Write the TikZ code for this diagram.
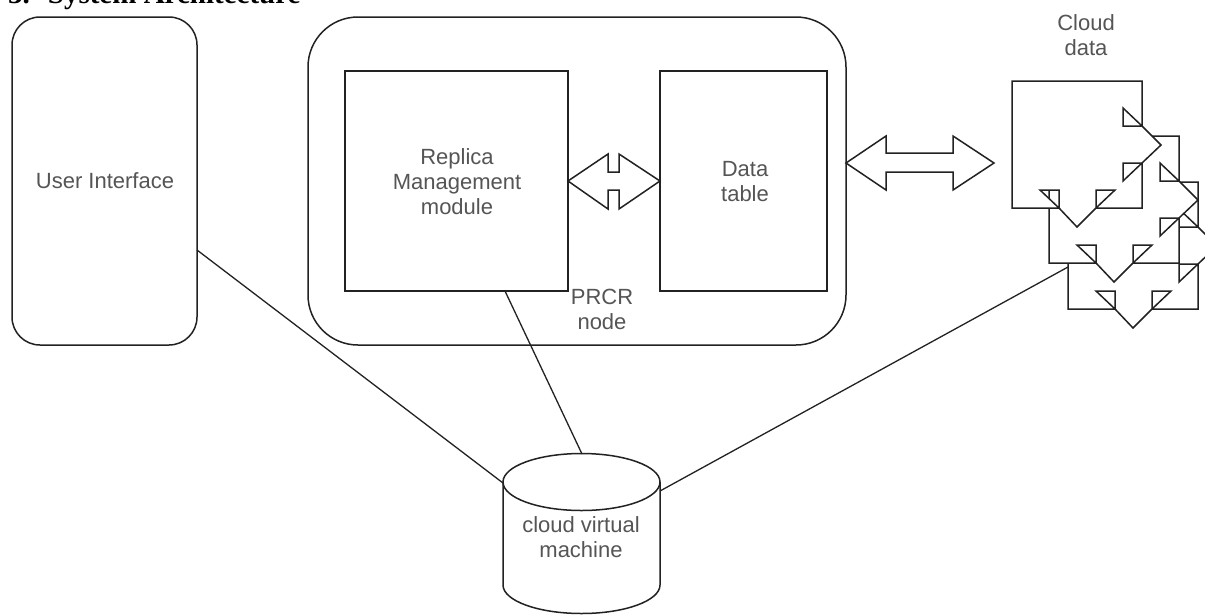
\documentclass[tikz,border=0pt]{standalone}
\usepackage{fontspec}
\setmainfont{Liberation Sans}
\newfontfamily\titlefont{Liberation Serif}
\definecolor{ink}{HTML}{222222}
\definecolor{lbl}{HTML}{555555}
\tikzset{
  x=1pt,y=-1pt,
  edge/.style={draw=ink,line width=1.5pt,line join=miter},
  block/.style={edge,fill=white},
  conn/.style={draw=ink,line width=1.3pt},
  lab/.style={text=lbl,font=\fontsize{22}{25}\selectfont,align=center,inner sep=0pt},
}
\newcommand{\cloudpage}[2]{%
  \draw[block,shift={(#1,#2)}]
    (1012,81) -- (1142,81) -- (1142,126) -- (1123,126) -- (1123,108) -- (1142,126)
    -- (1161,145) -- (1142,163) -- (1123,181) -- (1123,163) -- (1142,163) -- (1142,208)
    -- (1096,208) -- (1115,190) -- (1096,190) -- (1096,208) -- (1077,227) -- (1059,208)
    -- (1059,190) -- (1040,190) -- (1059,208) -- (1012,208) -- cycle;}
\begin{document}
\begin{tikzpicture}
\useasboundingbox (0,0) rectangle (1205,614);
\clip (0,0) rectangle (1205,614);
\fill[white] (0,0) rectangle (1205,614);
\node[anchor=base west,inner sep=0pt,font=\titlefont\bfseries\fontsize{29}{29}\selectfont] (title) at (8,3) {3.\hspace{18pt}System Architecture};

\node[edge,fill=white,rounded corners=28pt,minimum width=185pt,minimum height=328pt,inner sep=0pt] (ui) at (104.5,181) {};
\node[lab] (uilab) at (105,181) {User Interface};
\node[edge,fill=white,rounded corners=50pt,minimum width=538pt,minimum height=328pt,inner sep=0pt] (prcr) at (577,181) {};
\node[edge,fill=white,minimum width=223pt,minimum height=220pt,inner sep=0pt] (rm) at (456.5,181) {};
\node[lab] (rmlab) at (457,182) {Replica\\Management\\module};
\node[edge,fill=white,minimum width=167pt,minimum height=220pt,inner sep=0pt] (dt) at (743.5,181) {};
\node[lab] (dtlab) at (745,181.5) {Data\\table};
\node[lab] (prcrlab) at (602,309.5) {PRCR\\node};
\node[lab] (cdlab) at (1086,35.5) {Cloud\\data};

\draw[block] (568,181) -- (608,154) -- (608,172) -- (619,172) -- (619,154) -- (660,181)
  -- (619,209) -- (619,190) -- (608,190) -- (608,209) -- cycle;
\draw[block] (846,163) -- (886,136) -- (886,153) -- (953,153) -- (953,136) -- (994,163)
  -- (953,190) -- (953,172) -- (886,172) -- (886,190) -- cycle;

\cloudpage{56}{101}
\cloudpage{37}{55}
\cloudpage{0}{0}
\coordinate (c3) at (1068,267);

% cylinder
\draw[block] (503,482) -- (503,585) arc[start angle=180,end angle=360,x radius=78.5pt,y radius=28.5pt] -- (660,482);
\draw[block] (581.5,482) ellipse[x radius=78.5pt,y radius=28.5pt];
\coordinate (cl) at (503,483);
\coordinate (ct) at (582,454);
\coordinate (cr) at (660,491);
\node[lab] (cylab) at (581,537.5) {cloud virtual\\machine};

\coordinate (ui1) at (197,250);
\coordinate (rm1) at (505,291);
\draw[conn] (ui1) -- (cl);
\draw[conn] (rm1) -- (ct);
\draw[conn] (cr) -- (c3);
\end{tikzpicture}
\end{document}
